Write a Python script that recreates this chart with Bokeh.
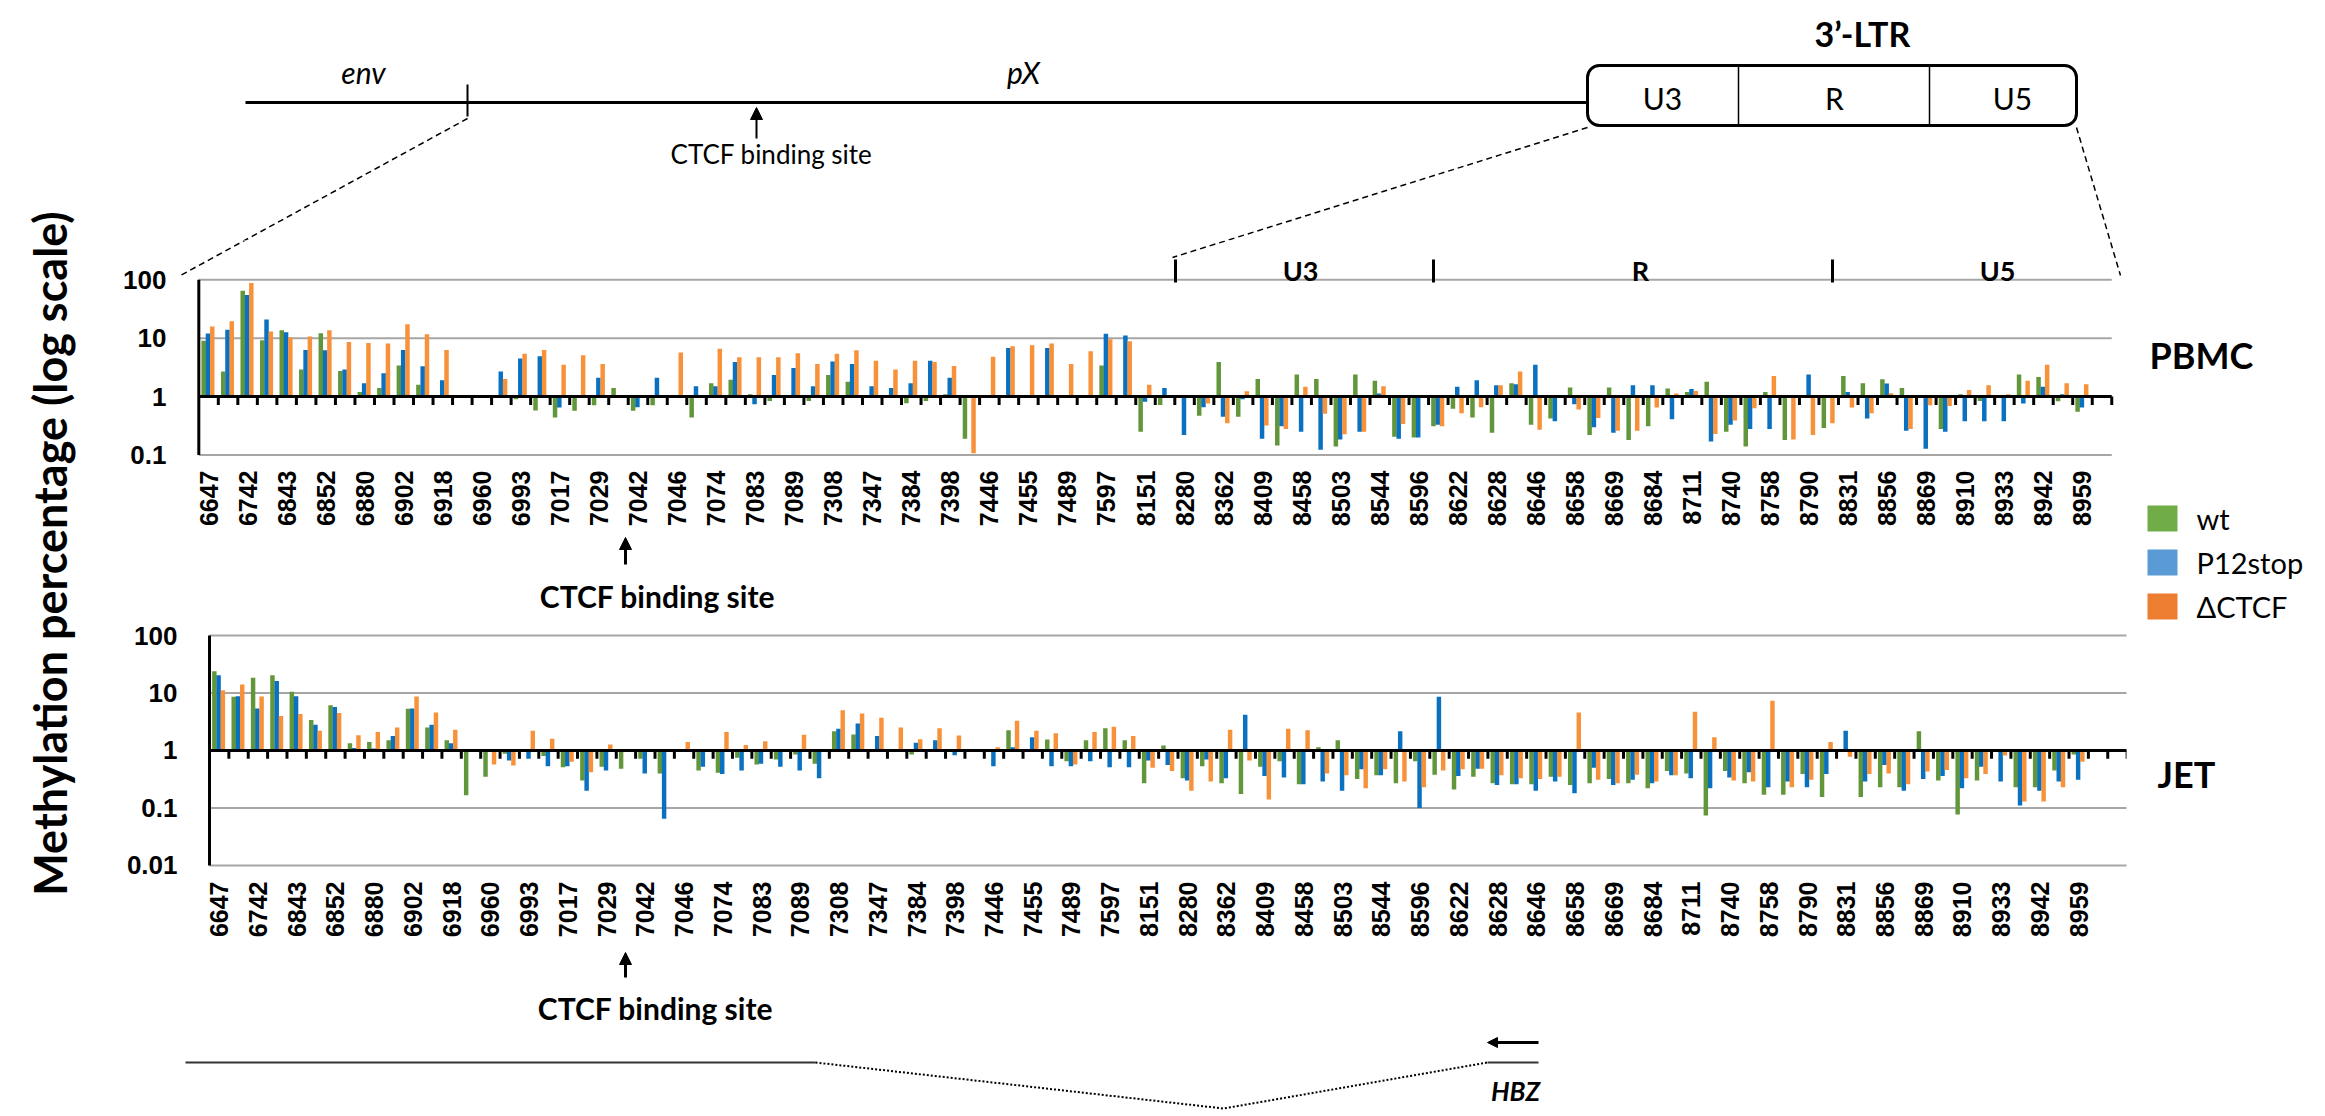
import math
from bokeh.plotting import figure
from bokeh.models import Range1d, FixedTicker, Arrow, NormalHead, NumeralTickFormatter
from bokeh.layouts import row, column
from bokeh.embed import file_html
from bokeh.resources import INLINE
from bokeh.core.properties import value

# ---------------- data ----------------
# CpG positions shown on the axis (every other CpG is labelled)
positions = ["6647", "6742", "6843", "6852", "6880", "6902", "6918", "6960", "6993", "7017",
             "7029", "7042", "7046", "7074", "7083", "7089", "7308", "7347", "7384", "7398",
             "7446", "7455", "7489", "7597", "8151", "8280", "8362", "8409", "8458", "8503",
             "8544", "8596", "8622", "8628", "8646", "8658", "8669", "8684", "8711", "8740",
             "8758", "8790", "8831", "8856", "8869", "8910", "8933", "8942", "8959"]

series_names = ["wt", "P12stop", "\u0394CTCF"]

# PBMC methylation percentage (None = no bar)
pbmc_wt = [9.0, 2.7, 65, 9.2, 13.7, 2.9, 12.2, 2.75, 1.2, 1.4, 3.4, 1.6, None, None, None, None, 0.9, 0.58, 0.44, 0.57,
           0.71, 1.4, 0.57, 0.71, None, 0.44, 1.7, 1.95, 1.1, 0.84, None, 0.84, 2.35, 1.8, None, 1.07, 0.77, 0.84, 1.1, 0.19,
           None, None, None, None, None, None, 3.4, None, 0.25, 0.72, None, 0.47, 3.9, 0.45, 2.0, 0.145, 2.4, 2.0, 0.14, 2.4,
           1.86, 0.206, 0.2, 0.31, 0.62, 0.44, 0.24, 1.7, 0.33, 0.42, 1.43, 0.22, 1.43, 0.18, 0.31, 1.37, 1.2, 1.8, 0.25, 0.14,
           1.2, 0.18, None, 0.29, 2.26, 1.7, 1.98, 1.4, None, 0.28, 1.1, 0.84, None, 2.4, 2.17, 0.83, 0.55]
pbmc_p12 = [12, 13.9, 55, 21, 12.7, 6.3, 6.2, 2.9, 1.7, 2.5, 6.3, 3.3, 1.9, None, None, 2.7, 4.5, 4.9, 0.65, None,
            2.1, None, 0.66, 2.1, None, 1.5, 1.5, 3.9, 0.74, 2.35, 3.1, 1.5, 4.0, 3.6, 1.5, 1.4, 1.7, 4.1, 2.1, None,
            None, 6.8, None, 6.8, None, None, 11.9, 11.1, 0.82, 1.4, 0.22, 0.66, 0.45, 0.9, 0.19, 0.31, 0.25, 0.123, 0.185, 0.25,
            1.13, 0.19, 0.2, 0.33, 1.48, 1.9, 1.56, 1.63, 3.5, 0.38, 0.74, 0.3, 0.24, 1.56, 1.56, 0.41, 1.35, 0.17, 0.33, 0.28,
            0.28, None, 2.4, 1.05, 1.2, 0.42, 1.67, 0.26, 0.128, 0.25, 0.38, 0.38, 0.38, 0.76, 1.48, 1.1, 0.65]
pbmc_dctcf = [15.9, 19.6, 88, 13, 10.4, 10.7, 13.7, 8.6, 8.3, 8.1, 17.4, 11.7, 6.3, None, None, 2.0, 5.4, 6.3, 3.5, 5.1,
              3.6, None, None, None, 5.7, None, 6.6, 4.7, 4.7, 4.7, 5.5, 3.6, 5.4, 6.2, 4.1, 2.9, 4.1, 3.9, 3.35, 0.107,
              4.8, 7.3, 7.6, 8.1, 3.6, 6.0, 9.6, 8.9, 1.6, 0.97, None, 0.76, 0.35, 1.23, 0.32, 0.28, 1.48, 0.51, 0.226, 0.25,
              1.5, 0.34, None, 0.31, 0.52, 0.66, 1.56, 2.7, 0.27, None, 0.6, 0.43, 0.26, 0.26, 0.65, 1.13, 1.25, 0.23, 0.39, 0.63,
              2.26, 0.185, 0.22, 0.35, 0.65, 0.52, 1.14, 0.28, 0.71, 0.69, 1.3, 1.56, 1.1, 1.86, 3.5, 1.7, 1.63]

# JET methylation percentage (None = no bar)
jet_wt = [24, 8.6, 18.4, 20.4, 10.5, 3.4, 6.1, 1.34, 1.4, 1.5, 5.3, 2.5, 1.5, 0.167, 0.35, 0.88, None, 0.8, 0.51, 0.3,
          0.52, 0.48, 0.72, 0.4, None, 0.45, 0.41, 0.75, 0.57, 0.7, 0.85, 0.59, 2.17, 1.9, 1.03, 1.02, 0.85, 1.02, 1.04, None,
          1.04, 2.26, None, 1.55, 0.65, 1.5, 2.44, 1.5, 0.27, 1.22, 0.33, 0.53, 0.27, 0.176, 0.52, 0.65, 0.26, 1.14, 1.5, 0.32,
          0.37, 0.27, 0.65, 0.38, 0.21, 0.35, 0.27, 0.26, 0.26, 0.35, 0.25, 0.27, 0.32, 0.27, 0.22, 0.44, 0.4, 0.074, 0.44, 0.27,
          0.17, 0.17, 0.39, 0.156, None, 0.156, 0.23, 0.23, 2.17, 0.3, 0.077, 0.3, None, 0.23, 0.23, 0.45, 0.85]
jet_p12 = [20.4, 8.8, 5.4, 16.1, 8.8, 2.8, 5.7, 1.1, 1.08, 1.78, 5.4, 2.8, 1.34, None, None, 0.67, 0.72, 0.53, 0.53, 0.2,
           0.45, None, 0.4, 0.065, None, 0.52, 0.39, 0.45, 0.59, 0.52, 0.45, 0.33, 2.4, 2.95, 1.78, 1.05, 1.36, 1.5, 0.83, None,
           0.53, 1.14, 1.7, 0.53, 0.53, 0.65, 0.51, 0.51, 0.67, 0.56, 0.3, 0.7, 0.33, 4.2, 0.36, 0.34, 0.26, 0.29, 0.2, 0.47,
           0.37, 2.17, 0.1, 8.6, 0.36, 0.48, 0.25, 0.26, 0.2, 0.29, 0.18, 0.5, 0.25, 0.31, 0.27, 0.37, 0.33, 0.22, 0.34, 0.42,
           0.23, 0.29, 0.23, 0.39, 2.2, 0.29, 0.56, 0.2, 0.32, 0.36, 0.22, 0.52, 0.29, 0.11, 0.2, 0.29, 0.31]
jet_dctcf = [11.2, 14.1, 8.7, 4.0, 4.3, 2.2, 4.5, 1.85, 2.1, 2.5, 8.7, 4.6, 2.3, None, 0.57, 0.55, 2.2, 1.6, 0.64, 0.42,
             1.27, None, None, None, 1.4, None, 2.1, 1.24, 1.45, 1.02, 1.87, 1.04, 5.0, 4.4, 3.7, 2.5, 1.57, 2.44, 1.82, None,
             1.14, 3.3, 2.2, 2.0, 0.57, 2.1, 2.6, 1.78, 0.5, 0.44, 0.2, 0.29, 2.3, 0.67, 0.14, 2.4, 2.26, 0.4, 0.37, 0.22,
             0.47, 0.29, 0.23, 0.45, 0.47, 0.48, 0.37, 0.33, 0.32, 0.35, 4.6, 0.31, 0.27, 0.38, 0.29, 0.37, 4.7, 1.7, 0.3, 0.29,
             7.3, 0.23, 0.31, 1.4, 0.78, 0.39, 0.4, 0.26, 0.43, 0.46, 0.33, 0.39, 0.82, 0.13, 0.13, 0.23, 0.64]

# ---------------- styles ----------------
BAR_COLORS = ["#62963A", "#0A70C0", "#F8923A"]
KEY_COLORS = ["#70AD47", "#5B9BD5", "#ED7D31"]
OFFSETS = [-0.25, -0.03, 0.19]
BAR_W = 0.23
TXT = value("Lato")
AXF = "Liberation Sans"

# page layout (page pixels)
W, H = 2325, 1116
LEFT_W = 90            # y-title column
CH_R = 2135            # right edge of the chart column
TOP_END = 240          # bottom of the gene diagram
FR_L, FR_R = 178, 2126  # common frame edges of everything in the chart column
BL, BR = FR_L - LEFT_W, CH_R - FR_R


def blank(width, height, xr, yr, bl=0, br=0):
    p = figure(width=width, height=height, x_range=Range1d(*xr), y_range=Range1d(*yr),
               output_backend="svg", toolbar_location=None,
               x_axis_location=None, y_axis_location=None,
               min_border_left=bl, min_border_right=br, min_border_top=0, min_border_bottom=0)
    p.outline_line_color = None
    p.grid.visible = False
    p.background_fill_color = "white"
    p.border_fill_color = "white"
    return p


def chart(series, n_cats, height, x_lo, x_hi, b_top, b_bottom, ylo, yhi,
          grid_ticks, axis_ticks, tick_len, label_standoff):
    p = figure(width=CH_R - LEFT_W, height=height, y_axis_type="log",
               x_range=Range1d(x_lo, x_hi), y_range=Range1d(ylo, yhi),
               output_backend="svg", toolbar_location=None,
               min_border_left=BL, min_border_right=BR,
               min_border_top=b_top, min_border_bottom=b_bottom)
    p.outline_line_color = None
    p.background_fill_color = "white"
    p.border_fill_color = "white"
    p.grid.visible = False
    x0, x1 = -0.5, n_cats - 0.5
    p.segment(x0=x0, y0=grid_ticks, x1=x1, y1=grid_ticks, line_color="#A6A6A6", line_width=2)
    for vals, off, col in zip(series, OFFSETS, BAR_COLORS):
        xs = [i + off for i, v in enumerate(vals) if v is not None]
        ys = [v for v in vals if v is not None]
        p.vbar(x=xs, top=ys, bottom=1, width=BAR_W, fill_color=col, line_color=None)
    # category axis crossing at 1, with tick marks between categories
    p.segment(x0=[x0], y0=[1], x1=[x1], y1=[1], line_color="black", line_width=3)
    bx = [i + 0.5 for i in range(n_cats)]
    p.segment(x0=bx, y0=1, x1=bx, y1=tick_len, line_color="black", line_width=3)
    # value axis line
    p.segment(x0=[x0], y0=[min(axis_ticks)], x1=[x0], y1=[max(axis_ticks)], line_color="black", line_width=3)

    ya = p.yaxis[0]
    ya.ticker = FixedTicker(ticks=axis_ticks)
    ya.formatter = NumeralTickFormatter(format="0.[00]")
    ya.axis_line_color = None
    ya.major_tick_line_color = None
    ya.major_tick_out = 0
    ya.major_tick_in = 0
    ya.minor_tick_line_color = None
    ya.major_label_standoff = label_standoff
    ya.major_label_text_font = AXF
    ya.major_label_text_font_style = "bold"
    ya.major_label_text_font_size = "26px"
    ya.major_label_text_color = "black"

    xa = p.xaxis[0]
    xa.ticker = FixedTicker(ticks=[2 * k for k in range(len(positions))])
    xa.major_label_overrides = {2 * k: lab for k, lab in enumerate(positions)}
    xa.major_label_orientation = math.pi / 2
    xa.axis_line_color = None
    xa.major_tick_line_color = None
    xa.minor_tick_line_color = None
    xa.major_tick_out = 0
    xa.major_label_standoff = 14
    xa.major_label_text_font = AXF
    xa.major_label_text_font_style = "bold"
    xa.major_label_text_font_size = "25px"
    xa.major_label_text_color = "black"
    return p


# ---------------- left column (y title) ----------------
left = blank(LEFT_W, H, (0, LEFT_W), (0, H))
left.text(x=[49], y=[H - 553], text=["Methylation percentage (log scale)"], angle=math.pi / 2,
          text_font=TXT, text_font_style="bold", text_font_size="45px",
          text_align="center", text_baseline="middle", text_color="black")

# ---------------- gene diagram (page coordinates) ----------------
ZOOM_LINES = [(467, 118, 180, 275), (1587, 127, 1172, 257), (2076, 127, 2120, 275)]
top = blank(W - LEFT_W, TOP_END, (LEFT_W, W), (TOP_END, 0))
top.segment(x0=[245], y0=[102], x1=[1587], y1=[102], line_color="black", line_width=3)
top.segment(x0=[467], y0=[84], x1=[467], y1=[116], line_color="black", line_width=2)
top.text(x=[363, 1023], y=[71, 71], text=["env", "pX"], text_font=TXT, text_font_style="italic",
         text_font_size="30px", text_align="center", text_baseline="middle", text_color="black")
top.add_layout(Arrow(end=NormalHead(size=12, fill_color="black", line_color="black"),
                     x_start=756, y_start=138, x_end=756, y_end=107, line_width=2, line_color="black"))
top.text(x=[771], y=[153], text=["CTCF binding site"], text_font=TXT, text_font_size="26px",
         text_align="center", text_baseline="middle", text_color="black")
top.quad(left=[1587], right=[2076], top=[65], bottom=[125], border_radius=12,
         fill_color=None, line_color="black", line_width=3)
top.segment(x0=[1738, 1929], y0=[65, 65], x1=[1738, 1929], y1=[125, 125], line_color="black", line_width=1.5)
top.text(x=[1662, 1834, 2012], y=[97, 97, 97], text=["U3", "R", "U5"], text_font=TXT,
         text_font_size="30px", text_align="center", text_baseline="middle", text_color="black")
top.text(x=[1862], y=[33], text=["3\u2019-LTR"], text_font=TXT, text_font_style="bold",
         text_font_size="34px", text_align="center", text_baseline="middle", text_color="black")
top.segment(x0=[l[0] for l in ZOOM_LINES], y0=[l[1] for l in ZOOM_LINES],
            x1=[l[2] for l in ZOOM_LINES], y1=[l[3] for l in ZOOM_LINES],
            line_color="black", line_width=1.5, line_dash="6 4")

# ---------------- PBMC chart ----------------
PB_DEC, PB_X0, PB_CW, PB_Y100 = 58.4, 198.3, 19.52, 279.3
PB_FRAME_B = 456


def pb(X, Y=PB_Y100):
    # page pixel -> PBMC data coordinates
    return (X - PB_X0) / PB_CW - 0.5, 10 ** (2 - (Y - PB_Y100) / PB_DEC)


pbmc = chart([pbmc_wt, pbmc_p12, pbmc_dctcf], 98, 535 - TOP_END,
             pb(FR_L)[0], pb(FR_R)[0], 0, 535 - PB_FRAME_B,
             pb(0, PB_FRAME_B)[1], pb(0, TOP_END)[1],
             [0.1, 10, 100], [0.1, 1, 10, 100], 10 ** (-8.3 / PB_DEC), 12)
for (Xa, Ya, Xb, Yb) in ZOOM_LINES:
    (xs, ys), (xe, ye) = pb(Xa, Ya), pb(Xb, Yb)
    pbmc.segment(x0=[xs], y0=[ys], x1=[xe], y1=[ye], line_color="black", line_width=1.5, line_dash="6 4")
mx = [pb(X)[0] for X in (1175, 1433, 1832)]
pbmc.segment(x0=mx, y0=pb(0, 259)[1], x1=mx, y1=pb(0, 282)[1], line_color="black", line_width=3)
pbmc.text(x=[pb(X)[0] for X in (1300, 1640, 1997)], y=pb(0, 270)[1], text=["U3", "R", "U5"],
          text_font=TXT, text_font_style="bold", text_font_size="27px",
          text_align="center", text_baseline="alphabetic", text_color="black")

# ---------------- JET chart ----------------
JT_X0, JT_CW = 209, 19.37


def jt(X):
    return (X - JT_X0) / JT_CW - 0.5


jet = chart([jet_wt, jet_p12, jet_dctcf], 99, 950 - 618, jt(FR_L), jt(FR_R), 12, 83,
            10 ** -2.035, 10 ** 2.087, [0.01, 0.1, 10, 100], [0.01, 0.1, 1, 10, 100], 10 ** (-8.3 / 57.5), 1)

# ---------------- CTCF site marks under each panel ----------------
strip1 = blank(CH_R - LEFT_W, 618 - 535, (FR_L, FR_R), (618, 535), BL, BR)
strip1.add_layout(Arrow(end=NormalHead(size=12, fill_color="black", line_color="black"),
                        x_start=625, y_start=564, x_end=625, y_end=537, line_width=3, line_color="black"))
strip1.text(x=[657], y=[595], text=["CTCF binding site"], text_font=TXT, text_font_style="bold",
            text_font_size="30px", text_align="center", text_baseline="alphabetic", text_color="black")

strip2 = blank(CH_R - LEFT_W, 1030 - 950, (FR_L, FR_R), (1030, 950), BL, BR)
strip2.add_layout(Arrow(end=NormalHead(size=12, fill_color="black", line_color="black"),
                        x_start=625, y_start=977, x_end=625, y_end=952, line_width=3, line_color="black"))
strip2.text(x=[655], y=[1007], text=["CTCF binding site"], text_font=TXT, text_font_style="bold",
            text_font_size="30px", text_align="center", text_baseline="alphabetic", text_color="black")

# ---------------- right column: sample labels + legend ----------------
right = blank(W - CH_R, 1030 - TOP_END, (CH_R, W), (1030, TOP_END))
right.text(x=[2149, 2157], y=[354, 773], text=["PBMC", "JET"], text_font=TXT, text_font_style="bold",
           text_font_size="36px", text_align="left", text_baseline="middle", text_color="black")
key_y = [518, 562, 606]
right.rect(x=[2162] * 3, y=key_y, width=30, height=26, fill_color=KEY_COLORS, line_color=None)
right.text(x=[2196] * 3, y=key_y, text=series_names, text_font=TXT, text_font_size="29px",
           text_align="left", text_baseline="middle", text_color="black")

# ---------------- bottom: HBZ ----------------
bottom = blank(W - LEFT_W, H - 1030, (LEFT_W, W), (H, 1030))
bottom.segment(x0=[185, 1487], y0=[1062, 1062], x1=[815, 1538], y1=[1062, 1062], line_color="#333333", line_width=2)
bottom.line(x=[815, 1223, 1487], y=[1062, 1108, 1062], line_color="black", line_width=2, line_dash="2 2")
bottom.add_layout(Arrow(end=NormalHead(size=10, fill_color="black", line_color="black"),
                        x_start=1538, y_start=1042, x_end=1487, y_end=1042, line_width=3, line_color="black"))
bottom.text(x=[1515], y=[1090], text=["HBZ"], text_font=TXT, text_font_style="bold italic",
            text_font_size="26px", text_align="center", text_baseline="middle", text_color="black")

charts = column(pbmc, strip1, jet, strip2, spacing=0)
middle = row(charts, right, spacing=0)
main = column(top, middle, bottom, spacing=0)
layout = row(left, main, spacing=0)

open("out.html", "w").write(file_html(layout, INLINE))
